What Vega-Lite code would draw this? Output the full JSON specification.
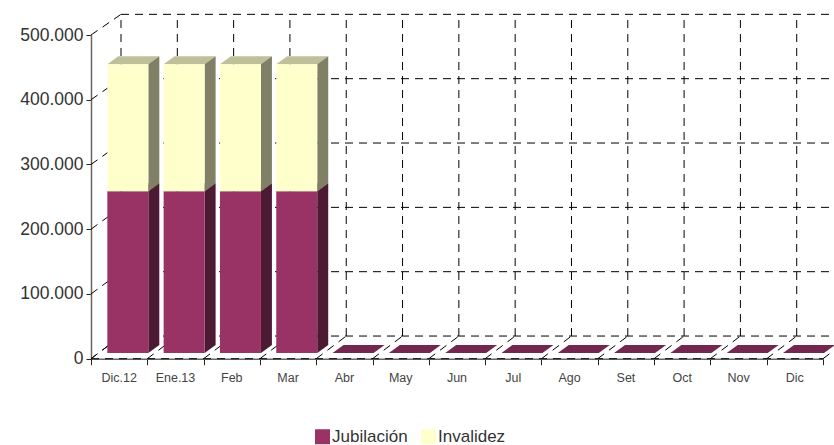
{"$schema":"https://vega.github.io/schema/vega-lite/v6.json","width":732,"height":323.7,"autosize":"none","padding":{"left":91,"top":35,"right":11,"bottom":86.3},"background":"white","config":{"view":{"stroke":null},"font":"Liberation Sans"},"datasets":{"niveles":[{"valor":0},{"valor":100000},{"valor":200000},{"valor":300000},{"valor":400000},{"valor":500000}],"marcas":[{"pos":0},{"pos":1},{"pos":2},{"pos":3},{"pos":4},{"pos":5},{"pos":6},{"pos":7},{"pos":8},{"pos":9},{"pos":10},{"pos":11},{"pos":12},{"pos":13}]},"data":{"values":[{"mes":"Dic.12","pos":0,"serie":"Jubilación","valor":250000},{"mes":"Dic.12","pos":0,"serie":"Invalidez","valor":196000},{"mes":"Ene.13","pos":1,"serie":"Jubilación","valor":250000},{"mes":"Ene.13","pos":1,"serie":"Invalidez","valor":196000},{"mes":"Feb","pos":2,"serie":"Jubilación","valor":250000},{"mes":"Feb","pos":2,"serie":"Invalidez","valor":196000},{"mes":"Mar","pos":3,"serie":"Jubilación","valor":250000},{"mes":"Mar","pos":3,"serie":"Invalidez","valor":196000},{"mes":"Abr","pos":4,"serie":"Jubilación","valor":0},{"mes":"Abr","pos":4,"serie":"Invalidez","valor":0},{"mes":"May","pos":5,"serie":"Jubilación","valor":0},{"mes":"May","pos":5,"serie":"Invalidez","valor":0},{"mes":"Jun","pos":6,"serie":"Jubilación","valor":0},{"mes":"Jun","pos":6,"serie":"Invalidez","valor":0},{"mes":"Jul","pos":7,"serie":"Jubilación","valor":0},{"mes":"Jul","pos":7,"serie":"Invalidez","valor":0},{"mes":"Ago","pos":8,"serie":"Jubilación","valor":0},{"mes":"Ago","pos":8,"serie":"Invalidez","valor":0},{"mes":"Set","pos":9,"serie":"Jubilación","valor":0},{"mes":"Set","pos":9,"serie":"Invalidez","valor":0},{"mes":"Oct","pos":10,"serie":"Jubilación","valor":0},{"mes":"Oct","pos":10,"serie":"Invalidez","valor":0},{"mes":"Nov","pos":11,"serie":"Jubilación","valor":0},{"mes":"Nov","pos":11,"serie":"Invalidez","valor":0},{"mes":"Dic","pos":12,"serie":"Jubilación","valor":0},{"mes":"Dic","pos":12,"serie":"Invalidez","valor":0}]},"transform":[{"stack":"valor","groupby":["mes"],"sort":[{"field":"serie","order":"descending"}],"as":["v0","v1"]}],"encoding":{"x":{"field":"x","type":"quantitative","title":null,"scale":{"domain":[0,13],"nice":false,"zero":false},"axis":{"values":[0,1,2,3,4,5,6,7,8,9,10,11,12,13],"labels":false,"grid":false,"domainColor":"#666666","domainWidth":1.5,"tickColor":"#222222","tickSize":6}},"y":{"field":"y","type":"quantitative","title":null,"stack":null,"scale":{"domain":[0,500000],"nice":false,"zero":false},"axis":{"values":[0,100000,200000,300000,400000,500000],"labelExpr":"replace(format(datum.value,','),',','.')","grid":false,"domainColor":"#666666","domainWidth":1.5,"tickColor":"#222222","tickSize":5,"labelFontSize":17.5,"labelColor":"#333333","labelPadding":3,"labelFont":"Liberation Sans"}}},"layer":[{"data":{"name":"niveles"},"transform":[{"calculate":"0.533","as":"x"},{"calculate":"14","as":"x2"},{"calculate":"35000+datum.valor*0.9938","as":"y"}],"mark":{"type":"rule","color":"black","strokeWidth":1,"strokeDash":[8,6]},"encoding":{"x2":{"field":"x2"}}},{"data":{"name":"marcas"},"transform":[{"filter":"datum.pos<13"},{"calculate":"datum.pos+0.533","as":"x"},{"calculate":"35000","as":"y"},{"calculate":"531900","as":"y2"}],"mark":{"type":"rule","color":"black","strokeWidth":1,"strokeDash":[8,6]},"encoding":{"y2":{"field":"y2"}}},{"data":{"name":"niveles"},"transform":[{"calculate":"0","as":"x"},{"calculate":"0.533","as":"x2"},{"calculate":"datum.valor","as":"y"},{"calculate":"35000+datum.valor*0.9938","as":"y2"}],"mark":{"type":"rule","color":"black","strokeWidth":1,"strokeDash":[8,6]},"encoding":{"x2":{"field":"x2"},"y2":{"field":"y2"}}},{"data":{"name":"marcas"},"transform":[{"calculate":"datum.pos","as":"x"},{"calculate":"datum.pos+0.533","as":"x2"},{"calculate":"0","as":"y"},{"calculate":"35000","as":"y2"}],"mark":{"type":"rule","color":"black","strokeWidth":1,"strokeDash":[8,6]},"encoding":{"x2":{"field":"x2"},"y2":{"field":"y2"}}},{"data":{"name":"marcas"},"transform":[{"filter":"datum.pos==0"},{"calculate":"0","as":"x"},{"calculate":"13","as":"x2"},{"calculate":"0","as":"y"}],"mark":{"type":"rule","color":"black","strokeWidth":1,"strokeDash":[8,6]},"encoding":{"x2":{"field":"x2"}}},{"transform":[{"filter":"datum.serie=='Jubilación'"},{"calculate":"[0,1,2,3]","as":"t"},{"flatten":["t"]},{"calculate":"datum.pos+0.29+[0,0.195,0.728,0.923][datum.t]","as":"x"},{"calculate":"8800+datum.v1+[0,0,0,12360][datum.t]","as":"y"},{"calculate":"8800+datum.v1+[0,12360,12360,12360][datum.t]","as":"y2"}],"mark":{"type":"area","orient":"vertical","fill":"#732650"},"encoding":{"y2":{"field":"y2"},"detail":{"field":"mes"}}},{"transform":[{"filter":"datum.serie=='Jubilación'"},{"calculate":"[0,1]","as":"t"},{"flatten":["t"]},{"calculate":"datum.pos+1.018+datum.t*0.195","as":"x"},{"calculate":"8800+datum.v0+datum.t*12360","as":"y"},{"calculate":"8800+datum.v1+datum.t*12360","as":"y2"}],"mark":{"type":"area","orient":"vertical","fill":"#4d1a33"},"encoding":{"y2":{"field":"y2"},"detail":{"field":"mes"}}},{"transform":[{"filter":"datum.serie=='Invalidez' && datum.valor>0"},{"calculate":"[0,1,2,3]","as":"t"},{"flatten":["t"]},{"calculate":"datum.pos+0.29+[0,0.195,0.728,0.923][datum.t]","as":"x"},{"calculate":"8800+datum.v1+[0,0,0,12360][datum.t]","as":"y"},{"calculate":"8800+datum.v1+[0,12360,12360,12360][datum.t]","as":"y2"}],"mark":{"type":"area","orient":"vertical","fill":"#bfbf99"},"encoding":{"y2":{"field":"y2"},"detail":{"field":"mes"}}},{"transform":[{"filter":"datum.serie=='Invalidez' && datum.valor>0"},{"calculate":"[0,1]","as":"t"},{"flatten":["t"]},{"calculate":"datum.pos+1.018+datum.t*0.195","as":"x"},{"calculate":"8800+datum.v0+datum.t*12360","as":"y"},{"calculate":"8800+datum.v1+datum.t*12360","as":"y2"}],"mark":{"type":"area","orient":"vertical","fill":"#808066"},"encoding":{"y2":{"field":"y2"},"detail":{"field":"mes"}}},{"transform":[{"calculate":"datum.pos+0.29","as":"x"},{"calculate":"datum.pos+1.018","as":"x2"},{"calculate":"8800+datum.v0","as":"y"},{"calculate":"8800+datum.v1","as":"y2"}],"mark":{"type":"rect"},"encoding":{"x2":{"field":"x2"},"y2":{"field":"y2"},"color":{"field":"serie","type":"nominal","title":null,"scale":{"domain":["Jubilación","Invalidez"],"range":["#993366","#ffffcc"]},"legend":{"orient":"none","legendX":223,"legendY":393,"direction":"horizontal","columns":2,"symbolType":"square","symbolSize":225,"symbolStrokeWidth":0,"labelFontSize":17,"labelColor":"#333333","labelOffset":1,"columnPadding":12,"labelFont":"Liberation Sans"}}}},{"transform":[{"filter":"datum.serie=='Jubilación'"},{"calculate":"datum.pos+0.5","as":"x"},{"calculate":"0","as":"y"}],"mark":{"type":"text","dy":19,"fontSize":12.5,"color":"#444444","font":"Liberation Sans"},"encoding":{"text":{"field":"mes"}}}]}
